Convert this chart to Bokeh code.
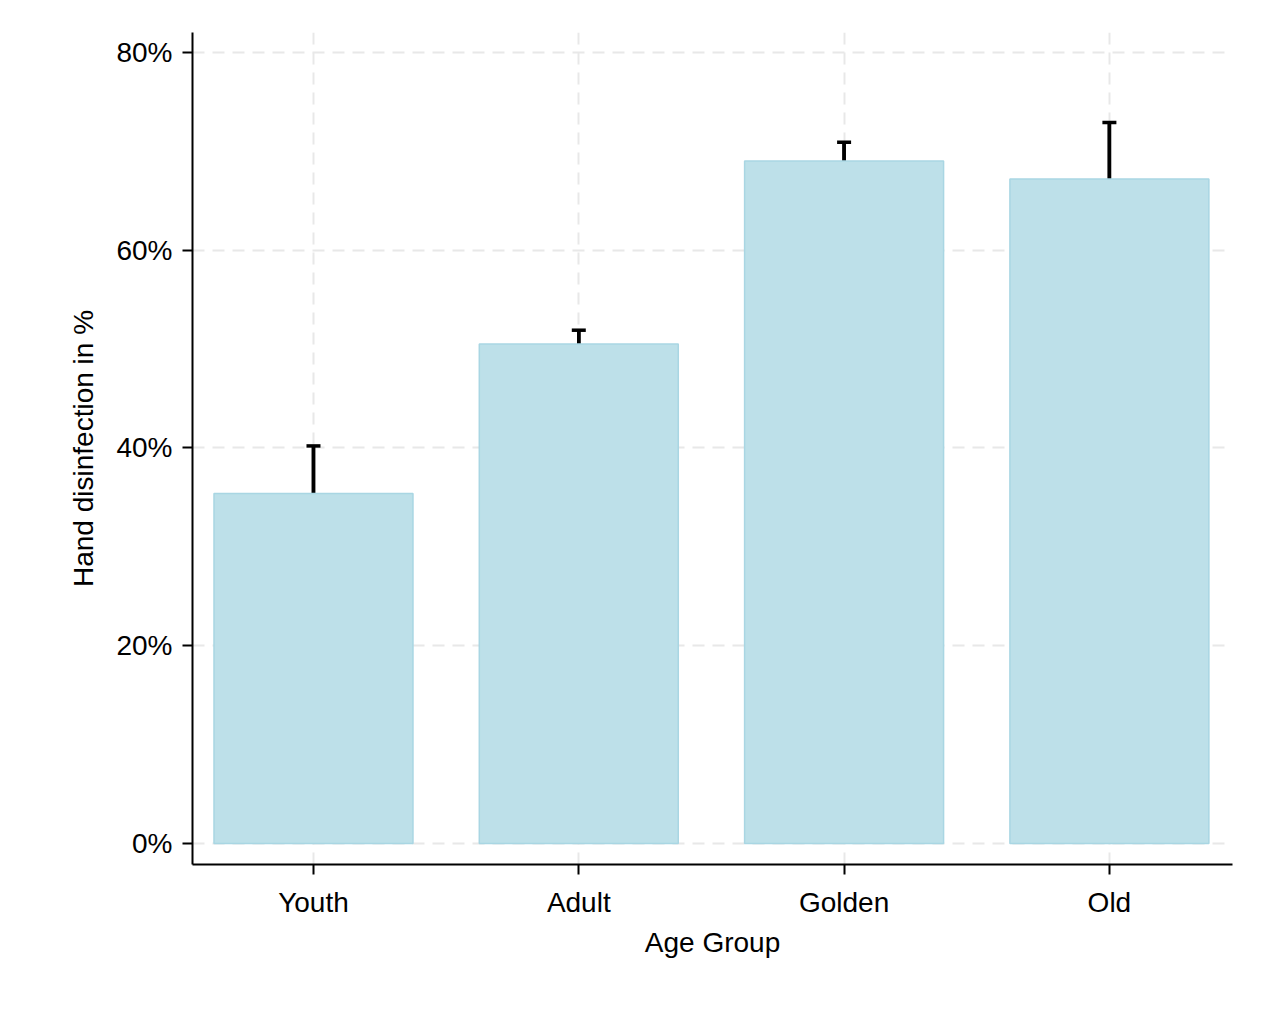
from bokeh.plotting import figure
from bokeh.models import Range1d, FixedTicker, ColumnDataSource, Whisker, NumeralTickFormatter
from bokeh.embed import file_html
from bokeh.resources import INLINE

groups = ["Youth", "Adult", "Golden", "Old"]
values = [35.4, 50.5, 69.0, 67.2]
upper = [40.2, 51.9, 70.9, 72.9]
lower = [30.8, 49.2, 67.2, 61.5]

xs = list(range(1, len(groups) + 1))
src = ColumnDataSource(dict(x=xs, top=[v / 100 for v in values],
                            up=[v / 100 for v in upper], lo=[v / 100 for v in lower]))

p = figure(width=1264, height=1009, output_backend="svg", toolbar_location=None,
           x_range=Range1d(0.544, 4.464), y_range=Range1d(-0.0212, 0.82),
           min_border_left=192, min_border_right=32, min_border_top=32, min_border_bottom=145)
p.outline_line_color = None
p.vbar(x="x", top="top", width=0.75, source=src, fill_color="#bde0e9", line_color="#a9d6e3", line_width=1.5)
p.add_layout(Whisker(base="x", upper="up", lower="lo", source=src, line_color="black", line_width=3.5,
                     upper_head=None, lower_head=None))
w = Whisker(base="x", upper="up", lower="lo", source=src, line_color="black", line_width=3.5)
w.upper_head.size = 14
w.lower_head.size = 14
w.upper_head.line_width = 3.5
w.lower_head.line_width = 3.5
p.add_layout(w)

p.xaxis.ticker = FixedTicker(ticks=xs)
p.xaxis.major_label_overrides = {x: g for x, g in zip(xs, groups)}
p.yaxis.ticker = FixedTicker(ticks=[0, 0.2, 0.4, 0.6, 0.8])
p.yaxis.formatter = NumeralTickFormatter(format="0%")
p.xaxis.axis_label = "Age Group"
p.yaxis.axis_label = "Hand disinfection in %"
for ax in (p.xaxis, p.yaxis):
    ax.axis_line_color = "black"
    ax.axis_line_width = 2
    ax.major_tick_line_color = "black"
    ax.major_tick_line_width = 2
    ax.major_tick_out = 10
    ax.major_tick_in = 0
    ax.minor_tick_line_color = None
    ax.major_label_text_font = "Liberation Sans"
    ax.major_label_text_font_size = "28px"
    ax.major_label_text_color = "black"
    ax.axis_label_text_font = "Liberation Sans"
    ax.axis_label_text_font_size = "28px"
    ax.axis_label_text_font_style = "normal"
    ax.axis_label_text_color = "black"
p.xaxis.major_label_standoff = 12
p.yaxis.major_label_standoff = 10
p.xaxis.axis_label_standoff = 6
p.yaxis.axis_label_standoff = 14
p.grid.grid_line_color = "#e8e8e8"
p.grid.grid_line_dash = "12 8"
p.grid.grid_line_width = 2

open("out.html", "w").write(file_html(p, INLINE))
